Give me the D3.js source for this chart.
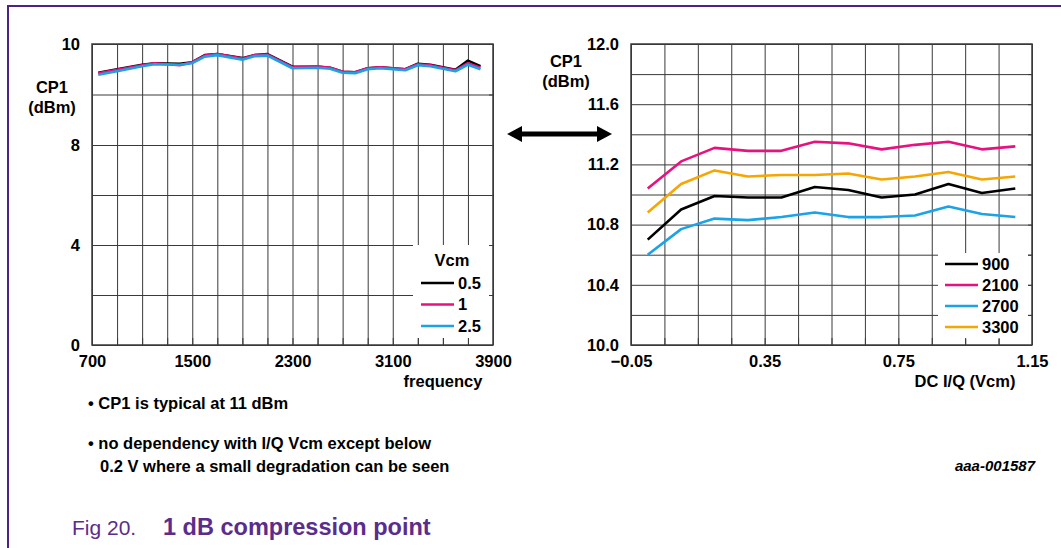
<!DOCTYPE html>
<html lang="en">
    <head>
        <meta charset="utf-8">
        <title>1 dB compression point</title>
        <script type="text/javascript" src="https://cdnjs.cloudflare.com/ajax/libs/d3/7.8.5/d3.min.js"></script>
    </head>
    <style type="text/css">
        body { margin: 0; background: white; }
        svg text { font-family: "Liberation Sans", Arial, sans-serif; fill: #000; }
        .grid line { stroke: #3a3a3a; stroke-width: 1; }
        .grid path { display: none; }
        .lbl path, .lbl line { display: none; }
        .lbl text { font-size: 16.5px; font-weight: bold; }
    </style>
    <body>
        <div class="chart"></div>
        <script type="text/javascript">
            // left panel: CP1 vs frequency, one line per Vcm
            var freq = [750, 900, 1100, 1200, 1400, 1500, 1600, 1700, 1900, 2000, 2100, 2300,
                        2500, 2600, 2700, 2800, 2900, 3000, 3200, 3300, 3400, 3600, 3700, 3800];
            var cp1_vcm05 = [9.43, 9.50, 9.59, 9.62, 9.61, 9.64, 9.78, 9.80, 9.72, 9.78, 9.80, 9.55,
                             9.55, 9.53, 9.45, 9.44, 9.52, 9.54, 9.50, 9.61, 9.59, 9.49, 9.67, 9.56];
            var cp1_vcm1  = [9.42, 9.49, 9.58, 9.62, 9.58, 9.64, 9.77, 9.80, 9.71, 9.78, 9.79, 9.54,
                             9.56, 9.53, 9.45, 9.44, 9.52, 9.54, 9.50, 9.60, 9.58, 9.48, 9.62, 9.53];
            var cp1_vcm25 = [9.39, 9.46, 9.56, 9.60, 9.59, 9.62, 9.75, 9.78, 9.69, 9.76, 9.77, 9.52,
                             9.53, 9.51, 9.43, 9.42, 9.50, 9.52, 9.48, 9.58, 9.56, 9.46, 9.59, 9.50];
            var vcm_names = ["0.5", "1", "2.5"];
            var freq_ticks = [700, 1500, 2300, 3100, 3900];
            var left_y_ticks = [0, 4, 8, 10];

            // right panel: CP1 vs DC I/Q common mode, one line per frequency
            var vcm = [0, 0.1, 0.2, 0.3, 0.4, 0.5, 0.6, 0.7, 0.8, 0.9, 1.0, 1.1];
            var cp1_900  = [10.70, 10.90, 10.99, 10.98, 10.98, 11.05, 11.03, 10.98, 11.00, 11.07, 11.01, 11.04];
            var cp1_2100 = [11.04, 11.22, 11.31, 11.29, 11.29, 11.35, 11.34, 11.30, 11.33, 11.35, 11.30, 11.32];
            var cp1_2700 = [10.60, 10.77, 10.84, 10.83, 10.85, 10.88, 10.85, 10.85, 10.86, 10.92, 10.87, 10.85];
            var cp1_3300 = [10.88, 11.07, 11.16, 11.12, 11.13, 11.13, 11.14, 11.10, 11.12, 11.15, 11.10, 11.12];
            var freq_names = ["900", "2100", "2700", "3300"];
            var vcm_ticks = [-0.05, 0.35, 0.75, 1.15];
            var right_y_ticks = [10.0, 10.4, 10.8, 11.2, 11.6, 12.0];

            var colors = ["#000000", "#e8117f", "#1aa3e6", "#f7a600"];

            var svg = d3.select(".chart")
                        .append("svg")
                        .attr("width", 1061)
                        .attr("height", 548);

            // purple page frame
            svg.append("path")
                .attr("d", "M8,548 L8,6 L1061,6")
                .attr("fill", "none")
                .attr("stroke", "#4b2382")
                .attr("stroke-width", 2);

            function panel(opts) {
                var x = opts.x, y = opts.y;
                var x0 = x.range()[0], x1 = x.range()[1];
                var yb = y.range()[0], yt = y.range()[y.range().length - 1];
                var g = svg.append("g");

                g.append("g").attr("class", "grid")
                    .attr("transform", "translate(0," + yb + ")")
                    .call(d3.axisBottom(x).tickValues(opts.xGrid).tickSize(-(yb - yt)).tickFormat(""));
                g.append("g").attr("class", "grid")
                    .attr("transform", "translate(" + x0 + ",0)")
                    .call(d3.axisLeft(y).tickValues(opts.yGrid).tickSize(-(x1 - x0)).tickFormat(""));

                var line = d3.line()
                    .x(function(d) { return x(d[0]); })
                    .y(function(d) { return y(d[1]); });

                opts.series.forEach(function(s, i) {
                    g.append("path")
                        .datum(opts.xs.map(function(v, j) { return [v, s[j]]; }))
                        .attr("d", line)
                        .attr("fill", "none")
                        .attr("stroke", opts.colors[i])
                        .attr("stroke-width", 2.6)
                        .attr("stroke-linejoin", "round");
                });

                // legend box hides the grid under it
                var lb = opts.legend;
                g.append("rect")
                    .attr("x", lb.x).attr("y", lb.y)
                    .attr("width", lb.w).attr("height", lb.h)
                    .attr("fill", "white");

                // short inner ticks on the frame
                g.append("g").attr("class", "grid")
                    .attr("transform", "translate(0," + yb + ")")
                    .call(d3.axisBottom(x).tickValues(opts.xGrid).tickSize(-7).tickFormat(""));
                g.append("g").attr("class", "grid")
                    .attr("transform", "translate(" + x1 + ",0)")
                    .call(d3.axisRight(y).tickValues(opts.yGrid).tickSize(-4).tickFormat(""));

                g.append("rect")
                    .attr("x", x0).attr("y", yt)
                    .attr("width", x1 - x0).attr("height", yb - yt)
                    .attr("fill", "none")
                    .attr("stroke", "#3a3a3a")
                    .attr("stroke-width", 1.5);

                if (lb.title) {
                    g.append("text")
                        .attr("x", lb.tx).attr("y", lb.ty)
                        .attr("dy", "0.35em")
                        .attr("text-anchor", "middle")
                        .style("font-size", "16.5px").style("font-weight", "bold")
                        .text(lb.title);
                }
                lb.names.forEach(function(n, i) {
                    var ly = lb.first + i * lb.step;
                    g.append("line")
                        .attr("x1", lb.lx).attr("x2", lb.lx + 33)
                        .attr("y1", ly).attr("y2", ly)
                        .attr("stroke", opts.colors[i])
                        .attr("stroke-width", 2.6);
                    g.append("text")
                        .attr("x", lb.lx + 37).attr("y", ly)
                        .attr("dy", "0.36em")
                        .style("font-size", "16.5px").style("font-weight", "bold")
                        .text(n);
                });

                // tick labels
                g.append("g").attr("class", "lbl")
                    .attr("transform", "translate(0," + (yb + 7) + ")")
                    .call(d3.axisBottom(x).tickValues(opts.xTicks).tickSize(0).tickFormat(opts.xFmt));
                g.append("g").attr("class", "lbl")
                    .attr("transform", "translate(" + (x0 - 9) + ",0)")
                    .call(d3.axisLeft(y).tickValues(opts.yTicks).tickSize(0).tickFormat(opts.yFmt));

                g.append("text")
                    .attr("x", opts.xTitle[1]).attr("y", opts.xTitle[2])
                    .attr("text-anchor", "middle")
                    .style("font-size", "16.5px").style("font-weight", "bold")
                    .text(opts.xTitle[0]);
                g.append("text")
                    .attr("x", opts.yTitle[0]).attr("y", opts.yTitle[1])
                    .attr("text-anchor", "middle")
                    .style("font-size", "16.5px").style("font-weight", "bold")
                    .text("CP1");
                g.append("text")
                    .attr("x", opts.yTitle[0]).attr("y", opts.yTitle[1] + 20)
                    .attr("text-anchor", "middle")
                    .style("font-size", "16.5px").style("font-weight", "bold")
                    .text("(dBm)");
            }

            // left y axis is broken: 0..8 compressed, 8..10 expanded
            var xL = d3.scaleLinear().domain([700, 3900]).range([92, 493]);
            var yL = d3.scaleLinear().domain([0, 8, 10]).range([345, 145, 44]);

            panel({
                x: xL, y: yL,
                xGrid: d3.range(700, 3901, 200),
                yGrid: [0, 2, 4, 6, 8, 9, 10],
                xs: freq,
                series: [cp1_vcm05, cp1_vcm1, cp1_vcm25],
                colors: colors.slice(0, 3),
                legend: {x: 413, y: 245, w: 77, h: 93, title: "Vcm", tx: 452, ty: 260,
                         names: vcm_names, lx: 421, first: 283, step: 21.5},
                xTicks: freq_ticks, xFmt: d3.format("d"),
                yTicks: left_y_ticks, yFmt: d3.format("d"),
                xTitle: ["frequency", 443, 387],
                yTitle: [52, 93]
            });

            var xR = d3.scaleLinear().domain([-0.05, 1.15]).range([631, 1032]);
            var yR = d3.scaleLinear().domain([10, 12]).range([345, 44]);

            panel({
                x: xR, y: yR,
                xGrid: d3.range(0, 13).map(function(i) { return -0.05 + i * 0.1; }),
                yGrid: d3.range(0, 11).map(function(i) { return 10 + i * 0.2; }),
                xs: vcm,
                series: [cp1_900, cp1_2100, cp1_2700, cp1_3300],
                colors: colors,
                legend: {x: 938, y: 253, w: 90, h: 86, names: freq_names,
                         lx: 945, first: 264, step: 21},
                xTicks: vcm_ticks, xFmt: d3.format(".2f"),
                yTicks: right_y_ticks, yFmt: d3.format(".1f"),
                xTitle: ["DC I/Q (Vcm)", 965, 387],
                yTitle: [566, 67]
            });

            // double headed arrow between the panels
            svg.append("path")
                .attr("d", "M507,134 L522,126 L522,131.5 L597,131.5 L597,126 L612,134 L597,142 L597,136.5 L522,136.5 L522,142 Z")
                .attr("fill", "#000");

            // notes
            var notes = svg.append("g")
                .style("font-size", "16.5px").style("font-weight", "bold");
            notes.append("text").attr("x", 88).attr("y", 409).text("\u2022 CP1 is typical at 11 dBm");
            notes.append("text").attr("x", 88).attr("y", 449).text("\u2022 no dependency with I/Q Vcm except below");
            notes.append("text").attr("x", 100).attr("y", 472).text("0.2 V where a small degradation can be seen");

            svg.append("text")
                .attr("x", 1035).attr("y", 471)
                .attr("text-anchor", "end")
                .style("font-size", "15px").style("font-weight", "bold").style("font-style", "italic")
                .text("aaa-001587");

            var cap = svg.append("text")
                .attr("x", 72).attr("y", 535)
                .style("font-size", "21px")
                .style("fill", "#5a2d8c");
            cap.append("tspan").style("fill", "#5a2d8c").text("Fig 20.");
            cap.append("tspan").attr("x", 163).style("fill", "#5a2d8c").style("font-weight", "bold")
                .style("font-size", "23.5px").text("1 dB compression point");
        </script>
    </body>
</html>
